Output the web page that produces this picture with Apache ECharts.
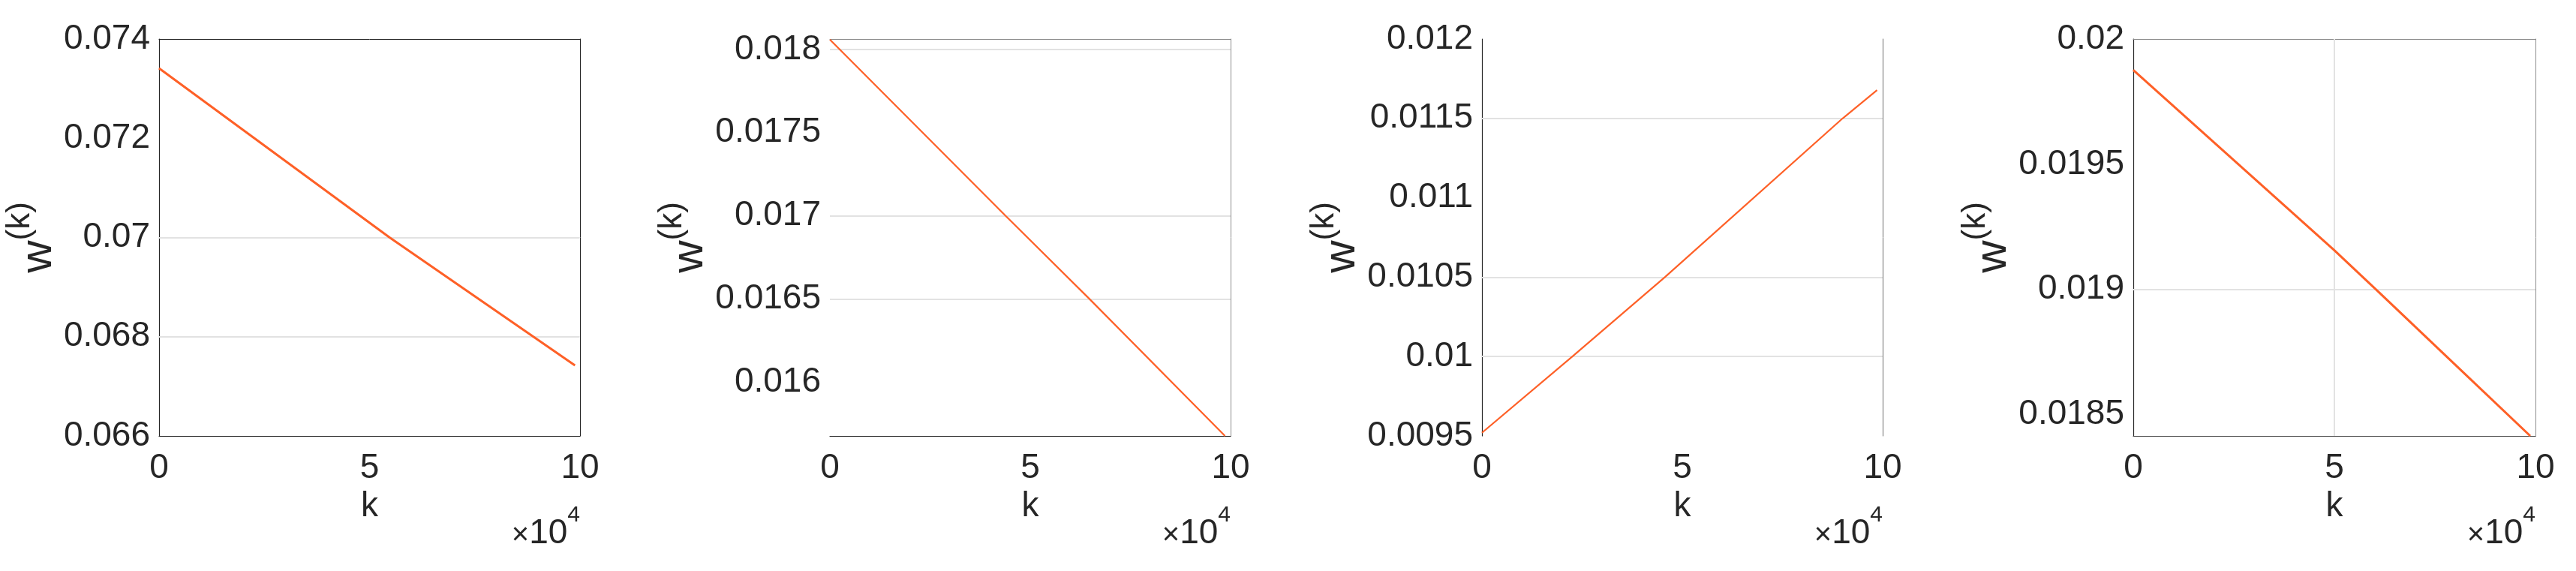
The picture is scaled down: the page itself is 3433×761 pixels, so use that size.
<!DOCTYPE html>
<html>
<head>
<meta charset="utf-8">
<script src="https://cdn.jsdelivr.net/npm/echarts@6/dist/echarts.min.js"></script>
<style>
  html, body { margin: 0; padding: 0; background: #ffffff; }
  #chart { width: 3433px; height: 761px; }
</style>
</head>
<body>
<div id="chart"></div>
<script>
// k values, w(k)
const k1 = [0, 54760, 98800];
const w1 = [0.07341, 0.0700, 0.06742];
const k2 = [0, 43820, 64770, 98600];
const w2 = [0.01806, 0.0170, 0.0165, 0.015676];
const k3 = [0, 22560, 45650, 90010, 98600];
const w3 = [0.00952, 0.0100, 0.0105, 0.0115, 0.011678];
const k4 = [0, 50000, 61000, 80000, 98700];
const w4 = [0.019876, 0.019156, 0.01899, 0.0187, 0.018415];

// axis ranges and ticks
const yRange = [[0.066, 0.074], [0.015676, 0.018063], [0.0095, 0.012], [0.018415, 0.02]];
const yTicks = [
    [0.066, 0.068, 0.07, 0.072, 0.074],
    [0.016, 0.0165, 0.017, 0.0175, 0.018],
    [0.0095, 0.01, 0.0105, 0.011, 0.0115, 0.012],
    [0.0185, 0.019, 0.0195, 0.02]
];
// grid lines that actually show up in the picture
const yGrid = [[0.07, 0.068], [0.018, 0.017, 0.0165], [0.0115, 0.0105, 0.01], [0.019]];
const xGrid = [[], [], [], [50000]];

const series_k = [k1, k2, k3, k4];
const series_w = [w1, w2, w3, w4];

const boxes = [
    { left: 212, width: 561 },
    { left: 1106, width: 534 },
    { left: 1975, width: 534 },
    { left: 2843, width: 536 }
];
const nameGaps = [116, 140, 137, 137];
const lineWidths = [3, 2.2, 2.2, 3];
// which box edges are drawn: [left, bottom, top, right]
const edges = [
    ['#262626', '#262626', '#262626', '#262626'],
    [null, '#262626', '#8c8c8c', '#8c8c8c'],
    ['#262626', null, null, '#6e6e6e'],
    ['#262626', '#4d4d4d', '#8c8c8c', '#8c8c8c']
];

const FONT = '"Liberation Sans", Arial, Helvetica, sans-serif';
const TXT = '#262626';
const LINE = '#fe6027';

const fmt = v => String(+(+v).toFixed(6));

const grids = [], xAxes = [], yAxes = [], series = [], graphics = [];

boxes.forEach((b, i) => {
    grids.push({ left: b.left, width: b.width, top: 52, height: 529, containLabel: false });
    const e = edges[i];

    xAxes.push({
        gridIndex: i, type: 'value', min: 0, max: 100000, interval: 50000,
        axisLine: { show: !!e[1], onZero: false, lineStyle: { color: e[1] || '#000', width: 1.2 } },
        axisTick: { show: false },
        splitLine: { show: false },
        axisLabel: {
            fontFamily: FONT, fontSize: 46, color: TXT, margin: 20,
            formatter: v => String(v / 10000)
        },
        name: 'k', nameLocation: 'middle', nameGap: 64,
        nameTextStyle: { fontFamily: FONT, fontSize: 46, color: TXT }
    });
    xAxes.push({
        gridIndex: i, type: 'value', position: 'top', min: 0, max: 100000,
        axisLine: { show: !!e[2], onZero: false, lineStyle: { color: e[2] || '#000', width: 1 } },
        axisTick: { show: false }, axisLabel: { show: false }, splitLine: { show: false }
    });

    yAxes.push({
        gridIndex: i, type: 'value', min: yRange[i][0], max: yRange[i][1],
        axisLine: { show: !!e[0], onZero: false, lineStyle: { color: e[0] || '#000', width: 1.2 } },
        axisTick: { show: false, customValues: yTicks[i] },
        splitLine: { show: false },
        axisLabel: {
            customValues: yTicks[i], showMinLabel: true, showMaxLabel: true,
            fontFamily: FONT, fontSize: 46, color: TXT, margin: 12,
            formatter: fmt
        },
        name: '{w|w}{s|(k)}', nameLocation: 'middle', nameGap: nameGaps[i],
        nameTextStyle: {
            fontFamily: FONT, color: TXT,
            rich: {
                w: { fontFamily: FONT, fontSize: 60, color: TXT, lineHeight: 76, verticalAlign: 'bottom' },
                s: { fontFamily: FONT, fontSize: 44, color: TXT, lineHeight: 76, verticalAlign: 'top' }
            }
        }
    });
    yAxes.push({
        gridIndex: i, type: 'value', position: 'right', min: yRange[i][0], max: yRange[i][1],
        axisLine: { show: !!e[3], onZero: false, lineStyle: { color: e[3] || '#000', width: 1 } },
        axisTick: { show: false }, axisLabel: { show: false }, splitLine: { show: false }
    });

    const marks = [];
    yGrid[i].forEach(v => marks.push({ yAxis: v }));
    xGrid[i].forEach(v => marks.push({ xAxis: v }));

    series.push({
        type: 'line',
        xAxisIndex: i * 2, yAxisIndex: i * 2,
        data: series_k[i].map((k, j) => [k, series_w[i][j]]),
        showSymbol: false, symbol: 'none', smooth: false,
        lineStyle: { color: LINE, width: lineWidths[i] },
        z: 5,
        markLine: {
            silent: true, symbol: 'none', animation: false,
            precision: 6,
            label: { show: false },
            lineStyle: { color: '#e2e2e2', width: 2, type: 'solid' },
            data: marks,
            z: 1
        }
    });

    graphics.push({
        type: 'text',
        right: 3433 - (b.left + b.width),
        top: 672,
        style: {
            text: '{t|×}{n|10}{s|4}',
            fill: TXT,
            rich: {
                t: { fontFamily: FONT, fontSize: 40, fill: TXT, lineHeight: 62, verticalAlign: 'bottom' },
                n: { fontFamily: FONT, fontSize: 46, fill: TXT, lineHeight: 62, verticalAlign: 'bottom' },
                s: { fontFamily: FONT, fontSize: 30, fill: TXT, lineHeight: 62, verticalAlign: 'top' }
            }
        }
    });
});

const chart = echarts.init(document.getElementById('chart'));
chart.setOption({
    backgroundColor: '#ffffff',
    animation: false,
    grid: grids,
    xAxis: xAxes,
    yAxis: yAxes,
    series: series,
    graphic: graphics
});
</script>
</body>
</html>
